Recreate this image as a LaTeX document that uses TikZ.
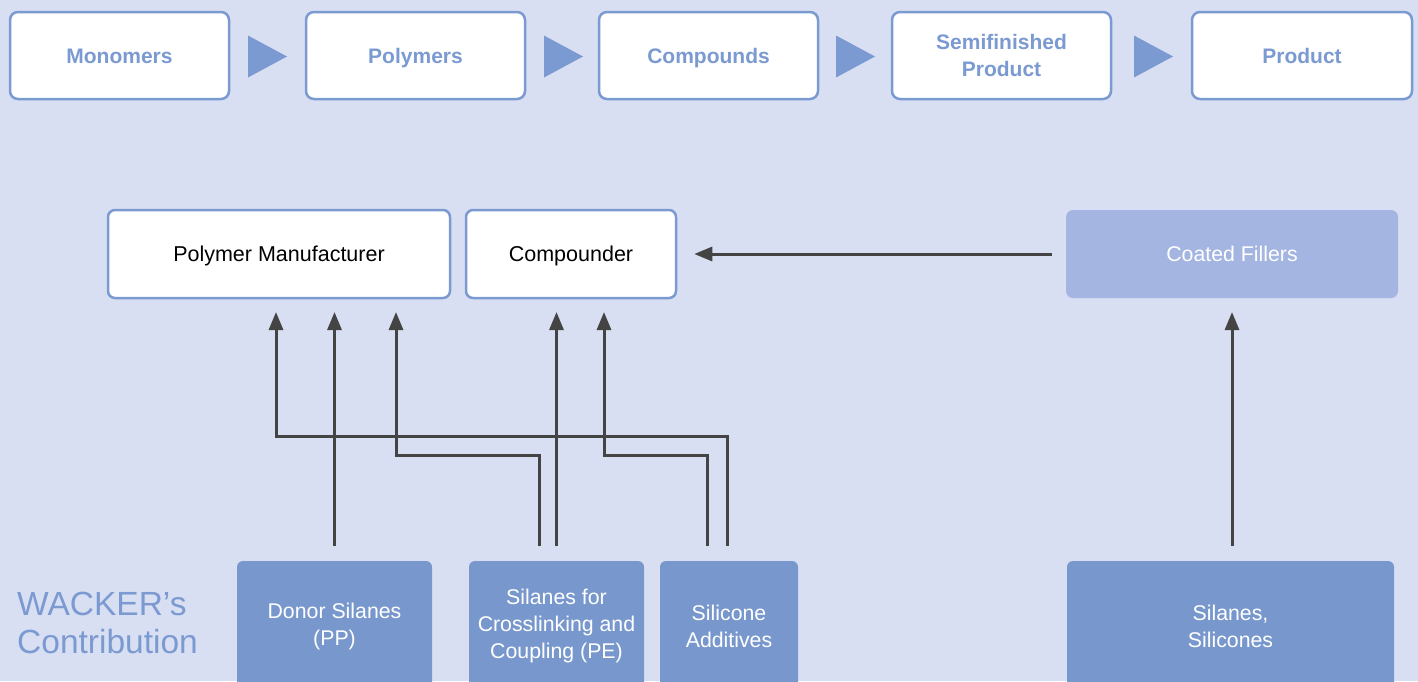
\documentclass[tikz,border=0pt]{standalone}
\usepackage{fontspec}
\setmainfont{Liberation Sans}
\usetikzlibrary{arrows.meta}
\definecolor{bg}{HTML}{D9DFF2}
\definecolor{wblue}{HTML}{7898CD}
\definecolor{lblue}{HTML}{A3B5E0}
\definecolor{tblue}{HTML}{7A9AD1}
\definecolor{conn}{HTML}{444444}
\tikzset{
  stagebox/.style={draw=tblue, line width=2.5pt, fill=white, rounded corners=8pt,
    minimum width=219pt, minimum height=87pt, text=tblue, font=\fontsize{21}{27}\selectfont\bfseries, align=center, inner sep=0pt},
  oneline/.style={text height=15pt, text depth=0pt},
  midbox/.style={draw=tblue, line width=2.5pt, fill=white, rounded corners=7pt,
    minimum height=88pt, text=black, font=\fontsize{21.5}{27}\selectfont, align=center, inner sep=0pt, oneline},
  contribbox/.style={fill=wblue, rounded corners=6pt, minimum height=130pt, text=white,
    font=\fontsize{21.3}{27}\selectfont, align=center, inner sep=0pt},
  stagearrow/.style={fill=tblue, draw=none},
  conn/.style={draw=conn, line width=3pt},
  arr/.style={conn, -{Triangle[length=18pt,width=14pt]}},
}
\begin{document}
\begin{tikzpicture}[x=1pt,y=-1pt]
\useasboundingbox (0,0) rectangle (1418,681);
\fill[bg] (0,0) rectangle (1418,681);
\clip (0,0) rectangle (1418,681);
% top process row
\node[stagebox, oneline] (mono) at (119.5,55.5) {Monomers};
\node[stagebox, oneline] (poly) at (415.5,55.5) {Polymers};
\node[stagebox, oneline] (comp) at (708.5,55.5) {Compounds};
\node[stagebox] (semi) at (1001.5,55.5) {\raisebox{-2pt}{Semifinished}\\\raisebox{-2pt}{Product}};
\node[stagebox, oneline, minimum width=220pt] (prod) at (1302,55.5) {Product};
\foreach \a in {248,544,836,1134}{
  \fill[stagearrow] (\a,35.5) -- (\a+39,56.5) -- (\a,77.5) -- cycle;
}
% middle row
\node[midbox, minimum width=342pt] (pm) at (279,254) {Polymer Manufacturer};
\node[midbox, minimum width=210pt] (cpd) at (571,254) {Compounder};
\node[contribbox, oneline, fill=lblue, minimum width=332pt, minimum height=88pt, rounded corners=7pt] (cf) at (1232,254) {Coated Fillers};
% bottom row
\node[contribbox, minimum width=195pt] (donor) at (334.5,626) {Donor Silanes\\(PP)};
\node[contribbox, minimum width=175pt] (xlink) at (556.5,626) {Silanes for\\Crosslinking and\\Coupling (PE)};
\node[contribbox, minimum width=138pt] (sadd) at (729,626) {Silicone\\Additives};
\node[contribbox, minimum width=327pt] (ss) at (1230.5,626) {Silanes,\\Silicones};
\node[text=tblue, font=\fontsize{33.5}{38}\selectfont, align=left, anchor=west, inner sep=0pt] (wc) at (17,623) {WACKER’s\\Contribution};
% connectors
\coordinate (yb) at (0,546);
\coordinate (yt) at (0,312);
% Donor -> PM
\draw[arr] (donor.north |- yb) -- (donor.north |- yt);
% Crosslink -> Compounder
\draw[arr] (xlink.north |- yb) -- (xlink.north |- yt);
% Crosslink -> PM
\coordinate (a1) at (539,546);
\coordinate (a2) at (539,455);
\coordinate (a3) at (396,455);
\coordinate (a4) at (396,312);
\draw[arr] (a1) -- (a2) -- (a3) -- (a4);
% Silicone additives -> PM
\coordinate (b1) at (727,546);
\coordinate (b2) at (727,436);
\coordinate (b3) at (276,436);
\coordinate (b4) at (276,312);
\draw[arr] (b1) -- (b2) -- (b3) -- (b4);
% Silicone additives -> Compounder
\coordinate (c1) at (707,546);
\coordinate (c2) at (707,455);
\coordinate (c3) at (604,455);
\coordinate (c4) at (604,312);
\draw[arr] (c1) -- (c2) -- (c3) -- (c4);
% Coated fillers -> Compounder
\draw[arr] ([xshift=-14pt]cf.west) -- ([xshift=17pt]cpd.east);
% Silanes, Silicones -> Coated fillers
\coordinate (s1) at (1232,546);
\coordinate (s2) at (1232,312);
\draw[arr] (s1) -- (s2);
\end{tikzpicture}
\end{document}
